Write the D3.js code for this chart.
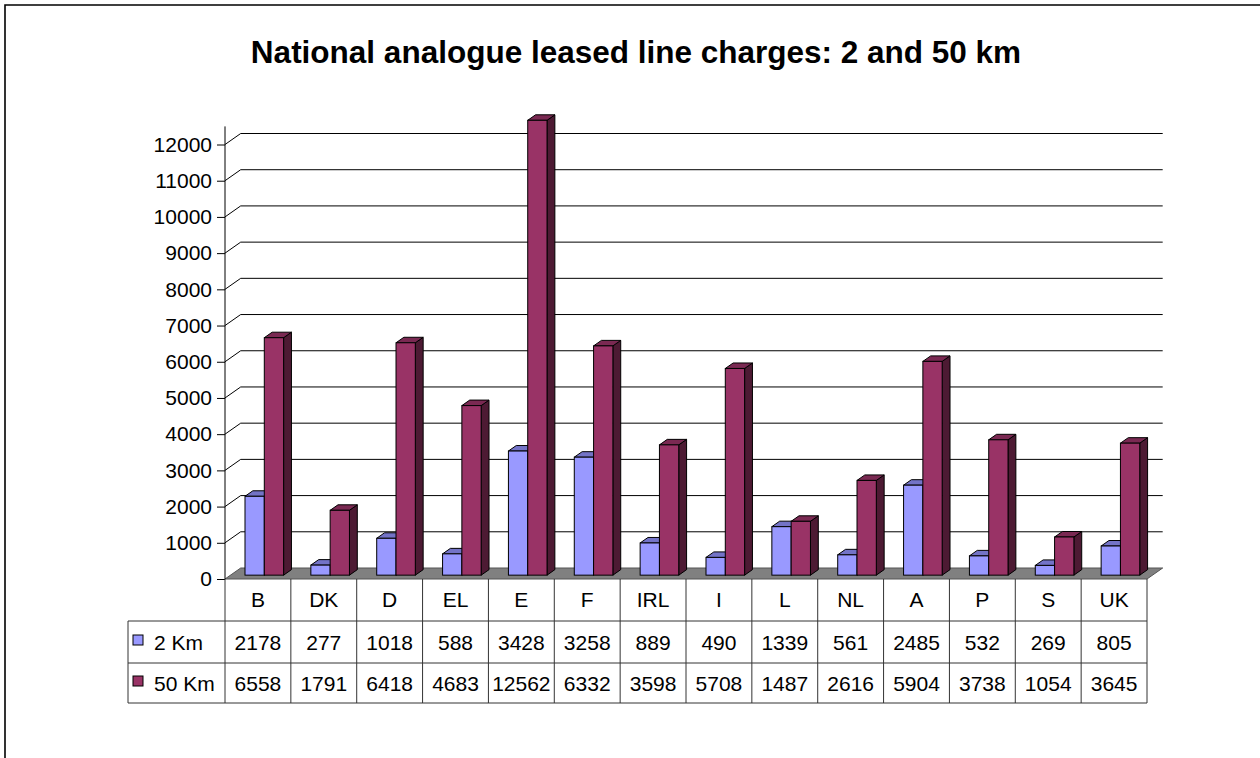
<!DOCTYPE html>
<html>
<head>
<meta charset="utf-8">
<script src="https://cdn.jsdelivr.net/npm/d3@7"></script>
<style>
  html, body { margin: 0; padding: 0; background: #fff; }
  svg { display: block; font-family: "Liberation Sans", Arial, sans-serif; }
</style>
</head>
<body>
<svg id="chart" width="1260" height="758"></svg>
<script>
const categories = ["B","DK","D","EL","E","F","IRL","I","L","NL","A","P","S","UK"];
const seriesNames = ["2 Km","50 Km"];
const km2  = [2178,277,1018,588,3428,3258,889,490,1339,561,2485,532,269,805];
const km50 = [6558,1791,6418,4683,12562,6332,3598,5708,1487,2616,5904,3738,1054,3645];
const yTicks = [0,1000,2000,3000,4000,5000,6000,7000,8000,9000,10000,11000,12000];
const titleText = "National analogue leased line charges: 2 and 50 km";

const seriesValues = [km2, km50];
const colors = [
  {front:"#9999FF", top:"#7373C7", side:"#5C5CA3"},
  {front:"#993366", top:"#7A2952", side:"#4D1A33"}
];

const svg = d3.select("#chart");
const FS = 21;

// frame
svg.append("path").attr("d","M5,760 L5,5 L1262,5").attr("fill","none").attr("stroke","#000").attr("stroke-width",1.6);

// title
svg.append("text").attr("x",636).attr("y",63).attr("text-anchor","middle")
  .attr("font-size",31.5).attr("font-weight","bold").text(titleText);

const axisX = 225, rightX = 1147, floorY = 579;
const DX = 15.7, DY = -11;
const y = d3.scaleLinear().domain([0,12500]).range([floorY, 126.4]);
const x0 = d3.scaleBand().domain(categories).range([axisX, rightX]);
const x1 = d3.scaleBand().domain(seriesNames).range([14.5, 14.5 + 38.6]);

// gridlines (with diagonal on side wall)
const grid = svg.append("g");
yTicks.filter(t => t > 0).forEach(t => {
  const yy = y(t);
  grid.append("path")
    .attr("d", `M${axisX},${yy} L${axisX+DX},${yy+DY} L${rightX+DX},${yy+DY}`)
    .attr("fill","none").attr("stroke","#000").attr("stroke-width",1);
});

// floor
svg.append("path")
  .attr("d", `M${axisX},${floorY} L${rightX},${floorY} L${rightX+DX},${floorY+DY} L${axisX+DX},${floorY+DY} Z`)
  .attr("fill","#808080").attr("stroke","#555").attr("stroke-width",1);

// axis line + ticks
const axisG = svg.append("g").attr("transform", `translate(${axisX},0)`);
axisG.call(d3.axisLeft(y).tickValues(yTicks).tickSize(8).tickPadding(5).tickFormat(d3.format("d")));
axisG.select(".domain").remove();
axisG.selectAll(".tick line").attr("stroke","#000");
axisG.selectAll(".tick text").attr("font-size",FS).attr("fill","#000").attr("font-family",'"Liberation Sans", Arial, sans-serif');
svg.append("line").attr("x1",axisX).attr("x2",axisX).attr("y1",y(12500)).attr("y2",floorY).attr("stroke","#000");

// bars
const fF = 0.35, bF = 0.85;
const fdx = DX*fF, fdy = DY*fF, ddx = DX*(bF-fF), ddy = DY*(bF-fF);
const barsG = svg.append("g");
categories.forEach((c, i) => {
  seriesNames.forEach((s, k) => {
    const v = seriesValues[k][i];
    const xl = x0(c) + x1(s) + fdx;
    const w = x1.bandwidth();
    const yt = y(v) + fdy, yb = floorY + fdy;
    const col = colors[k];
    barsG.append("path")
      .attr("d", `M${xl+w},${yb} L${xl+w+ddx},${yb+ddy} L${xl+w+ddx},${yt+ddy} L${xl+w},${yt} Z`)
      .attr("fill", col.side).attr("stroke","#000").attr("stroke-width",1).attr("stroke-linejoin","round");
    barsG.append("path")
      .attr("d", `M${xl},${yt} L${xl+w},${yt} L${xl+w+ddx},${yt+ddy} L${xl+ddx},${yt+ddy} Z`)
      .attr("fill", col.top).attr("stroke","#000").attr("stroke-width",1).attr("stroke-linejoin","round");
    barsG.append("rect").attr("x", xl).attr("y", yt).attr("width", w).attr("height", yb - yt)
      .attr("fill", col.front).attr("stroke","#000").attr("stroke-width",1);
  });
});

// data table
const legendX = 128;
const rowY = [floorY, 621, 663, 703];
const tbl = svg.append("g");
const lineCol = "#333";
[1,2,3].forEach(r => {
  tbl.append("line").attr("x1",legendX).attr("x2",rightX).attr("y1",rowY[r]).attr("y2",rowY[r]).attr("stroke",lineCol);
});
tbl.append("line").attr("x1",legendX).attr("x2",legendX).attr("y1",rowY[1]).attr("y2",rowY[3]).attr("stroke",lineCol);
categories.forEach(c => {
  tbl.append("line").attr("x1",x0(c)).attr("x2",x0(c)).attr("y1",floorY).attr("y2",rowY[3]).attr("stroke",lineCol);
});
tbl.append("line").attr("x1",rightX).attr("x2",rightX).attr("y1",floorY).attr("y2",rowY[3]).attr("stroke",lineCol);

categories.forEach(c => {
  tbl.append("text").attr("x", x0(c) + x0.bandwidth()/2).attr("y", 607)
    .attr("text-anchor","middle").attr("font-size",FS).text(c);
});
const rowBase = [650, 691];
seriesNames.forEach((s, k) => {
  categories.forEach((c, i) => {
    tbl.append("text").attr("x", x0(c) + x0.bandwidth()/2).attr("y", rowBase[k])
      .attr("text-anchor","middle").attr("font-size",FS).text(seriesValues[k][i]);
  });
  tbl.append("rect").attr("x", 133).attr("y", rowBase[k] - 15).attr("width", 10).attr("height", 10)
    .attr("fill", colors[k].front).attr("stroke","#000").attr("stroke-width",1);
  tbl.append("text").attr("x", 154).attr("y", rowBase[k]).attr("font-size",FS).text(s);
});
</script>
</body>
</html>
